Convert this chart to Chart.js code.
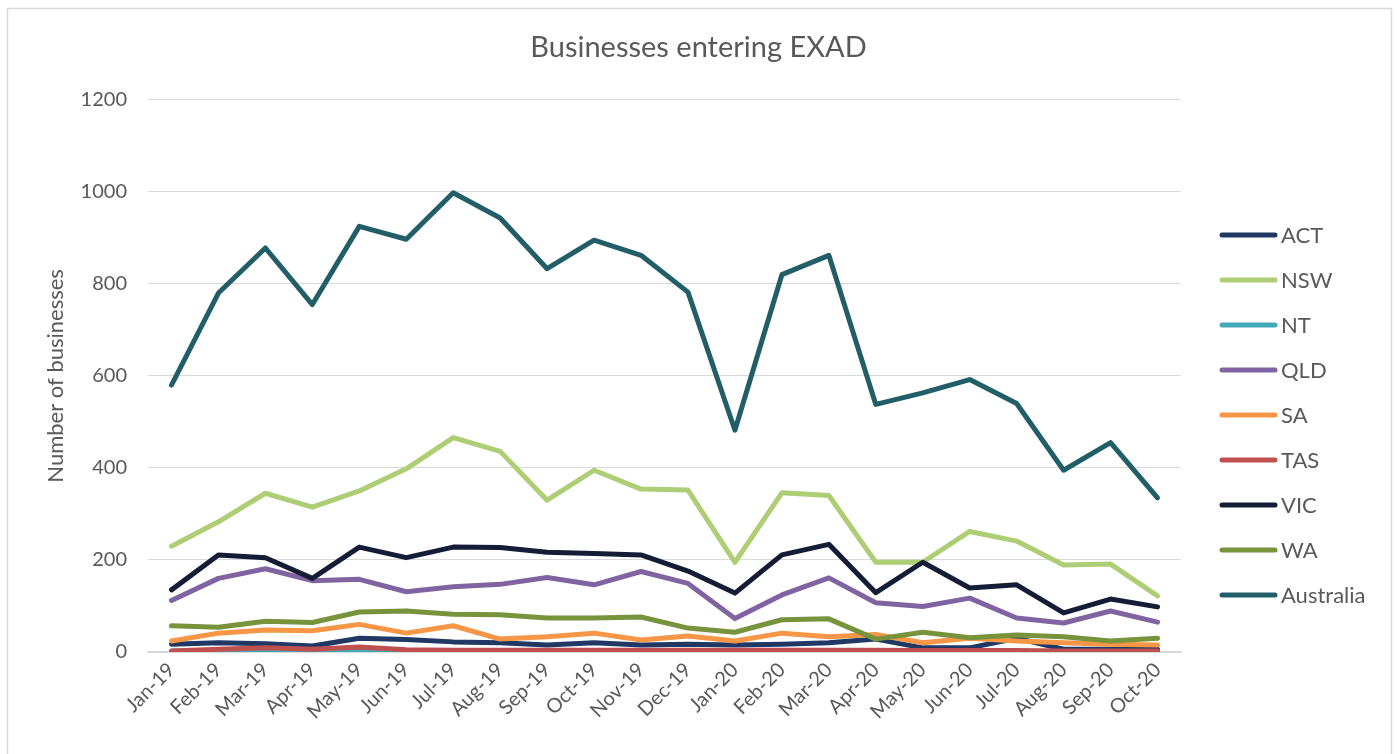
<!DOCTYPE html>
<html>
<head>
<meta charset="utf-8">
<script src="https://cdn.jsdelivr.net/npm/chart.js@4.4.1/dist/chart.umd.min.js"></script>
<style>
  html, body { margin: 0; padding: 0; background: #ffffff; }
  #wrap { position: relative; width: 1397px; height: 754px; }
</style>
</head>
<body>
<div id="wrap"><canvas id="c" width="1397" height="754"></canvas></div>
<script>
const months = ["Jan-19","Feb-19","Mar-19","Apr-19","May-19","Jun-19","Jul-19","Aug-19","Sep-19","Oct-19","Nov-19","Dec-19",
                "Jan-20","Feb-20","Mar-20","Apr-20","May-20","Jun-20","Jul-20","Aug-20","Sep-20","Oct-20"];
const ACT = [17,20,18,13,30,27,22,20,15,20,15,17,15,17,20,28,9,9,30,6,6,6];
const NSW = [230,283,345,315,350,398,466,436,330,395,354,352,195,346,340,195,195,262,241,189,191,122];
const NT  = [2,3,5,2,3,1,1,1,1,1,1,1,1,1,1,1,1,1,0,1,1,1];
const QLD = [112,160,181,155,158,131,142,147,162,146,175,149,73,124,161,107,99,117,74,63,89,65];
const SA  = [24,41,48,46,60,41,57,28,33,41,26,35,24,41,33,38,20,30,24,20,17,15];
const TAS = [2,6,9,6,11,5,4,4,4,4,4,4,4,4,4,4,3,3,3,2,2,2];
const VIC = [135,211,205,160,228,205,228,227,217,214,211,176,128,211,234,129,195,139,146,85,115,98];
const WA  = [57,54,67,64,87,89,82,81,74,74,76,52,43,70,72,28,43,31,37,33,24,30];
const AUS = [580,780,878,755,925,897,998,943,833,895,862,782,482,820,862,538,563,592,540,395,455,335];
const yTicks = [0,200,400,600,800,1000,1200];

const seriesNames  = ["ACT","NSW","NT","QLD","SA","TAS","VIC","WA","Australia"];
const seriesData   = [ACT, NSW, NT, QLD, SA, TAS, VIC, WA, AUS];
const seriesColors = ["#203864","#ADCE74","#42A9B7","#8064A2","#F79646","#C0504D","#141C36","#77933C","#225E68"];

const FONT = "Lato, 'Open Sans', 'Liberation Sans', sans-serif";
const TEXT = "#595959";

const datasets = seriesNames.map((n, i) => ({
  label: n,
  data: seriesData[i],
  borderColor: seriesColors[i],
  backgroundColor: seriesColors[i],
  borderWidth: 5,
  pointRadius: 0,
  tension: 0,
  fill: false,
  borderCapStyle: 'round',
  borderJoinStyle: 'round',
  yAxisID: 'y',
  order: seriesNames.length - i
}));

const framePlugin = {
  id: 'frame',
  beforeDraw(chart) {
    const ctx = chart.ctx;
    ctx.save();
    ctx.fillStyle = '#ffffff';
    ctx.fillRect(0, 0, chart.width, chart.height);
    ctx.strokeStyle = '#D9D9D9';
    ctx.lineWidth = 1.5;
    ctx.strokeRect(7.5, 8.5, 1384, 800);
    ctx.restore();
  }
};

const legendPlugin = {
  id: 'customLegend',
  afterDraw(chart) {
    const ctx = chart.ctx;
    ctx.save();
    ctx.font = "22px " + FONT;
    ctx.textBaseline = 'middle';
    ctx.textAlign = 'left';
    chart.data.datasets.forEach((ds, i) => {
      const y = 235 + i * 45;
      ctx.strokeStyle = ds.borderColor;
      ctx.lineWidth = 5;
      ctx.lineCap = 'round';
      ctx.beginPath();
      ctx.moveTo(1222, y);
      ctx.lineTo(1275, y);
      ctx.stroke();
      ctx.fillStyle = TEXT;
      ctx.fillText(ds.label, 1281, y + 1);
    });
    ctx.restore();
  }
};

new Chart(document.getElementById('c'), {
  type: 'line',
  data: { labels: months, datasets },
  plugins: [framePlugin, legendPlugin],
  options: {
    responsive: false,
    animation: false,
    devicePixelRatio: 1,
    layout: { padding: 0 },
    plugins: {
      legend: { display: false },
      tooltip: { enabled: false },
      title: {
        display: true,
        text: "Businesses entering EXAD",
        color: TEXT,
        font: { family: FONT, size: 29, weight: 'normal' },
        padding: { top: 30, bottom: 35 }
      }
    },
    scales: {
      x: {
        offset: true,
        grid: { display: false, drawTicks: false },
        border: { display: true, color: '#D9D9D9', width: 1.5 },
        ticks: {
          color: TEXT,
          font: { family: FONT, size: 20 },
          minRotation: 45,
          maxRotation: 45,
          autoSkip: false,
          padding: 6
        },
        afterFit(scale) { scale.height = 754 - 652; }
      },
      y: {
        min: 0,
        max: 1200,
        afterBuildTicks(scale) { scale.ticks = yTicks.map(v => ({ value: v })); },
        grid: { color: '#D9D9D9', lineWidth: 1, drawTicks: false },
        border: { display: false },
        ticks: {
          color: TEXT,
          font: { family: FONT, size: 20 },
          padding: 21,
          callback: (v) => String(v)
        },
        title: {
          display: true,
          text: "Number of businesses",
          color: TEXT,
          font: { family: FONT, size: 22 },
          padding: { top: 43, bottom: 0 }
        },
        afterFit(scale) { scale.width = 148; }
      },
      yRight: {
        position: 'right',
        display: true,
        min: 0,
        max: 1200,
        grid: { display: false, drawTicks: false },
        border: { display: false },
        ticks: { display: false },
        afterFit(scale) { scale.width = 1397 - 1181; }
      }
    }
  }
});
</script>
</body>
</html>
